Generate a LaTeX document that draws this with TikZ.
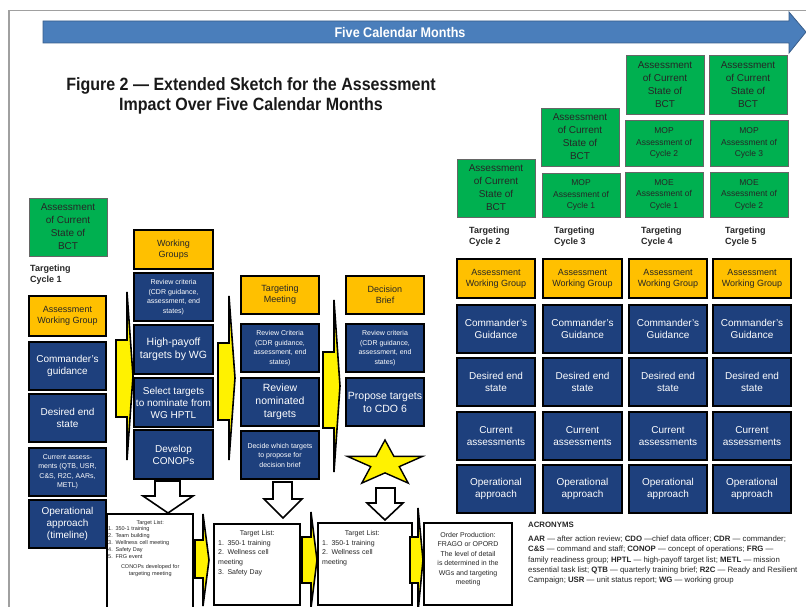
\documentclass[tikz,border=0pt]{standalone}
\usepackage{fontspec}
\setmainfont{Liberation Sans}
\newfontfamily\narrowfont{Liberation Sans}[FakeStretch=0.9]
\definecolor{gbox}{RGB}{0,176,80}
\definecolor{obox}{RGB}{255,192,0}
\definecolor{nbox}{RGB}{30,64,125}
\definecolor{arrowblue}{RGB}{74,126,187}
\definecolor{arrowedge}{RGB}{56,93,138}
\definecolor{framegray}{RGB}{160,160,160}
\newcommand{\mybox}[7]{\node[#2, minimum width={#5-#3-2}, minimum height={#6-#4-2}] (#1) at ({(#3+#5)/2},{(#4+#6)/2}) {#7};}
\newcommand{\yarr}[7]{\draw[yarrow] (#1,#4) -- (#2,#4) -- (#2,#6) -- (#3,{(#6+#7)/2}) -- (#2,#7) -- (#2,#5) -- (#1,#5) -- cycle;}
\newcommand{\harr}[7]{\draw[harrow] (#1,#3) -- (#2,#3) -- (#2,#4) -- (#6,#4) -- ({(#5+#6)/2},#7) -- (#5,#4) -- (#1,#4) -- cycle;}
\begin{document}
\begin{tikzpicture}[x=1pt,y=-1pt,
  greenbox/.style={draw=black!60, line width=0.8pt, fill=gbox, text=black!85, align=center, inner sep=0pt, font=\fontsize{10}{13}\selectfont},
  mopbox/.style={greenbox, font=\fontsize{8.5}{11.5}\selectfont},
  orangebox/.style={draw=black, line width=2.6pt, fill=obox, text=black!85, align=center, inner sep=0pt, font=\fontsize{9}{11}\selectfont},
  navybox/.style={draw=black, line width=2.6pt, fill=nbox, text=white, align=center, inner sep=0pt, font=\fontsize{10}{12}\selectfont},
  smallnavy/.style={navybox, font=\fontsize{7}{9.5}\selectfont},
  bignavy/.style={navybox, font=\fontsize{10.5}{13}\selectfont},
  listbox/.style={draw=black, line width=2.6pt, fill=white, inner sep=0pt},
  yarrow/.style={fill=yellow, draw=black, line width=1.6pt, line join=miter},
  harrow/.style={fill=white, draw=black, line width=1.6pt, line join=miter},
  cyclelabel/.style={font=\bfseries\fontsize{9}{11}\selectfont, align=left, anchor=north west, inner sep=0pt, text=black!85},
  listtext/.style={anchor=north west, inner sep=0pt, align=left, text=black!85}
]
\useasboundingbox (0,0) rectangle (806,607);
% frame
\draw[framegray, line width=1.2pt] (9,10.5) -- (806,10.5);
\draw[framegray, line width=1.2pt] (9,10.5) -- (9,607);
% months arrow
\draw[fill=arrowblue, draw=arrowedge, line width=0.8pt] (43,21) -- (789,21) -- (789,12) -- (806,32) -- (789,53) -- (789,43) -- (43,43) -- cycle;
\node[font=\narrowfont\bfseries\fontsize{14}{16}\selectfont, text=white] (months) at (400,32) {Five Calendar Months};
% title
\node[font=\narrowfont\bfseries\fontsize{17.8}{19.5}\selectfont, align=center, text=black!90] (title) at (251,96) {Figure 2 — Extended Sketch for the Assessment\\Impact Over Five Calendar Months};

% ---------- cycle 1 ----------
\mybox{g1}{greenbox}{28}{197}{108}{257}{Assessment\\of Current\\State of\\BCT}
\node[cyclelabel] (tc1) at (30,265) {Targeting\\Cycle 1};
\mybox{awg1}{orangebox}{28}{295}{107}{337}{Assessment\\Working Group}
\mybox{cg1}{navybox}{28}{341}{107}{391}{Commander's\\guidance}
\mybox{des1}{navybox}{28}{393}{107}{443}{Desired end\\state}
\mybox{cur1}{smallnavy}{28}{447}{107}{497}{Current assess-\\ments (QTB, USR,\\C\&S, R2C, AARs,\\METL)}
\mybox{op1}{navybox}{28}{499}{107}{549}{Operational\\approach\\(timeline)}

% ---------- working groups ----------
\mybox{wg}{orangebox}{133}{229}{214}{270}{Working\\Groups}
\mybox{rc2}{smallnavy}{133}{272}{214}{322}{Review criteria\\(CDR guidance,\\assessment, end\\states)}
\mybox{hp2}{bignavy}{133}{324}{214}{375}{High-payoff\\targets by WG}
\mybox{sel2}{navybox}{133}{377}{214}{428}{Select targets\\to nominate from\\WG HPTL}
\mybox{dev2}{navybox}{133}{429}{214}{480}{Develop\\CONOPs}

% ---------- targeting meeting ----------
\mybox{tm}{orangebox}{240}{275}{320}{315}{Targeting\\Meeting}
\mybox{rc3}{smallnavy}{240}{323}{320}{373}{Review Criteria\\(CDR guidance,\\assessment, end\\states)}
\mybox{rn3}{bignavy}{240}{377}{320}{427}{Review\\nominated\\targets}
\mybox{dec3}{smallnavy}{240}{430}{320}{480}{Decide which targets\\to propose for\\decision brief}

% ---------- decision brief ----------
\mybox{db}{orangebox}{345}{275}{425}{315}{Decision\\Brief}
\mybox{rc4}{smallnavy}{345}{323}{425}{373}{Review criteria\\(CDR guidance,\\assessment, end\\states)}
\mybox{pr4}{bignavy}{345}{377}{425}{427}{Propose targets\\to CDO 6}

% star
\draw[fill=yellow, draw=black, line width=1.4pt, line join=miter]
  (385,440) -- (393.9,456.4) -- (422.5,456.4) -- (399.3,466.6) -- (408.2,483.1)
  -- (385,472.9) -- (361.8,483.1) -- (370.7,466.6) -- (347.5,456.4) -- (376.1,456.4) -- cycle;

% yellow arrows between columns
\yarr{116}{127}{133}{340}{417}{292}{460}
\yarr{218}{229}{235}{343}{420}{296}{460}
\yarr{323}{334}{340}{352}{428}{300}{472}

% hollow down arrows
\harr{155}{180}{481}{496}{143}{193}{513}
\harr{273}{292}{482}{499}{264}{302}{518}
\harr{376}{395}{488}{503}{367}{403}{520}

% target lists
\mybox{tl1}{listbox}{106}{513}{194}{612}{}
\node[listtext, font=\fontsize{5.5}{6.8}\selectfont, text width=84pt] (tl1t) at (108,520) {\makebox[84pt]{Target List:}\\1. 350-1 training\\2. Team building\\3. Wellness cell meeting\\4. Safety Day\\5. FRG event\\[3.5pt]\makebox[84pt]{CONOPs developed for}\\\makebox[84pt]{targeting meeting}};
\mybox{tl2}{listbox}{213}{523}{301}{606}{}
\node[listtext, font=\fontsize{7}{9.8}\selectfont, text width=84pt] (tl2t) at (218,530) {\makebox[78pt]{Target List:}\\1. 350-1 training\\2. Wellness cell\\meeting\\3. Safety Day};
\mybox{tl3}{listbox}{317}{522}{413}{606}{}
\node[listtext, font=\fontsize{7}{9.8}\selectfont, text width=88pt] (tl3t) at (322,530) {\makebox[80pt]{Target List:}\\1. 350-1 training\\2. Wellness cell\\meeting};
\mybox{ord}{listbox}{423}{522}{513}{606}{}
\node[font=\fontsize{7}{9.5}\selectfont, align=center, inner sep=0pt, anchor=north, text=black!85] (ordt) at (468,532) {Order Production:\\FRAGO or OPORD\\The level of detail\\is determined in the\\WGs and targeting\\meeting};

% bottom yellow arrows
\yarr{195}{203}{209}{540}{578}{514}{606}
\yarr{302}{311}{317}{537}{583}{512}{608}
\yarr{410}{418}{423}{537}{583}{508}{612}

% ---------- cycles 2-5 ----------
\mybox{gA}{greenbox}{456}{158}{536}{218}{Assessment\\of Current\\State of\\BCT}
\mybox{gB}{greenbox}{540}{107}{620}{167}{Assessment\\of Current\\State of\\BCT}
\mybox{mopB}{mopbox}{541}{172}{621}{218}{MOP\\Assessment of\\Cycle 1}
\mybox{gC}{greenbox}{625}{54}{705}{115}{Assessment\\of Current\\State of\\BCT}
\mybox{mopC}{mopbox}{624}{119}{704}{167}{MOP\\Assessment of\\Cycle 2}
\mybox{moeC}{mopbox}{624}{171}{704}{218}{MOE\\Assessment of\\Cycle 1}
\mybox{gD}{greenbox}{708}{54}{788}{115}{Assessment\\of Current\\State of\\BCT}
\mybox{mopD}{mopbox}{709}{119}{789}{167}{MOP\\Assessment of\\Cycle 3}
\mybox{moeD}{mopbox}{709}{171}{789}{218}{MOE\\Assessment of\\Cycle 2}

\node[cyclelabel] (tc2) at (469,227) {Targeting\\Cycle 2};
\node[cyclelabel] (tc3) at (554,227) {Targeting\\Cycle 3};
\node[cyclelabel] (tc4) at (641,227) {Targeting\\Cycle 4};
\node[cyclelabel] (tc5) at (725,227) {Targeting\\Cycle 5};

\foreach \c/\xa/\xb in {A/456/536, B/542/623, C/628/708, D/712/792}{
  \mybox{awg\c}{orangebox}{\xa}{258}{\xb}{299}{Assessment\\Working Group}
  \mybox{cg\c}{navybox}{\xa}{304}{\xb}{354}{Commander's\\Guidance}
  \mybox{des\c}{navybox}{\xa}{357}{\xb}{407}{Desired end\\state}
  \mybox{cur\c}{navybox}{\xa}{411}{\xb}{461}{Current\\assessments}
  \mybox{op\c}{navybox}{\xa}{464}{\xb}{514}{Operational\\approach}
}

% acronyms
\node[anchor=north west, inner sep=0pt, align=left, font=\fontsize{7.8}{10.3}\selectfont, text=black!85] (acr) at (528,522)
{\textbf{ACRONYMS}\\[3.5pt]
\textbf{AAR} — after action review; \textbf{CDO} —chief data officer; \textbf{CDR} — commander;\\
\textbf{C\&S} — command and staff; \textbf{CONOP} — concept of operations; \textbf{FRG} —\\
family readiness group; \textbf{HPTL} — high-payoff target list; \textbf{METL} — mission\\
essential task list; \textbf{QTB} — quarterly training brief; \textbf{R2C} — Ready and Resilient\\
Campaign; \textbf{USR} — unit status report; \textbf{WG} — working group};
\end{tikzpicture}
\end{document}
